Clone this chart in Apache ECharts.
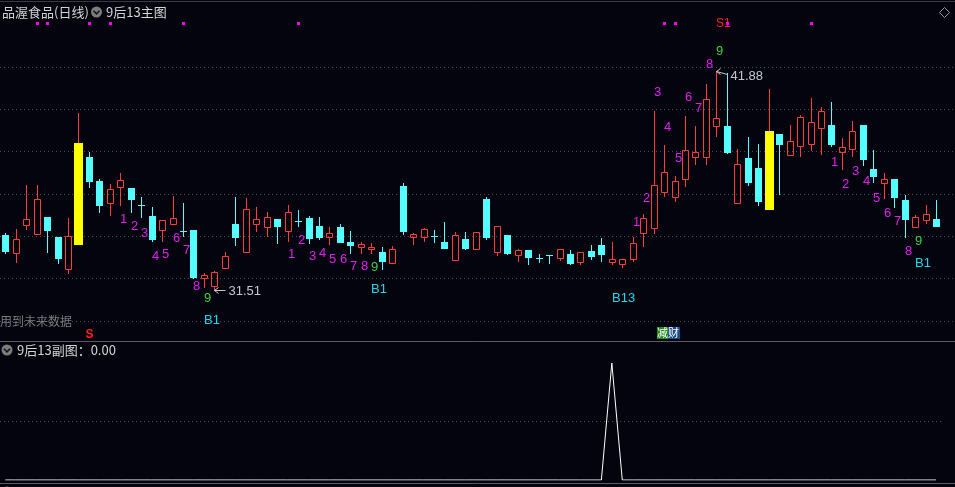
<!DOCTYPE html>
<html><head><meta charset="utf-8">
<script src="https://cdn.jsdelivr.net/npm/echarts@6/dist/echarts.min.js"></script>
<style>html,body{margin:0;padding:0;background:#04040e;}#c{width:955px;height:487px;}</style>
</head><body><div id="c"></div>
<script>
// ---------- data ----------
const days = Array.from({length: 90}, (_, i) => 'D' + (i + 1));
const opens  = [34.11,33.26,34.59,34.16,34.97,34.02,32.51,33.69,37.81,36.67,
                35.63,36.39,36.34,35.54,35.01,34.35,34.64,34.30,34.35,32.08,
                31.70,32.55,34.64,33.31,34.64,34.49,34.87,34.30,34.78,34.92,
                34.54,34.02,34.49,33.78,33.55,33.45,33.31,32.79,36.44,34.02,
                34.02,34.07,33.78,32.93,33.93,33.45,35.82,33.31,34.11,33.17,
                33.40,33.03,33.17,33.03,33.22,32.84,33.36,33.64,32.84,32.74,
                32.98,34.21,34.45,36.15,35.91,36.77,37.81,37.81,39.28,39.28,
                35.63,37.76,37.29,35.35,38.90,37.90,38.33,38.42,39.18,39.32,
                38.05,38.19,39.32,37.24,36.58,36.77,35.77,34.49,34.83,34.87];
const closes = [33.36,33.93,34.87,35.82,34.35,33.03,34.07,38.47,36.67,35.54,
                36.29,36.72,35.82,35.54,33.93,34.83,34.92,34.30,32.13,32.22,
                32.36,33.12,34.02,35.35,34.87,34.97,34.54,35.20,34.78,33.97,
                34.02,34.21,33.78,33.64,33.69,33.55,32.88,33.45,34.30,34.16,
                34.40,34.07,33.50,34.11,33.50,34.26,34.02,34.54,33.26,33.40,
                33.07,33.03,33.17,33.45,32.79,33.31,33.12,33.22,32.98,32.98,
                33.74,34.92,36.48,37.10,36.67,38.14,38.05,40.55,39.65,38.05,
                37.48,36.62,35.73,39.04,38.42,38.57,39.70,39.47,39.99,38.42,
                38.28,39.04,37.71,36.91,36.77,35.91,34.87,34.97,35.11,34.54];
const lows   = [33.26,32.84,34.40,34.16,33.31,32.79,32.32,33.69,36.39,35.20,
                35.06,35.54,35.20,34.97,33.83,33.83,34.64,34.07,32.08,31.65,
                31.51,32.55,33.64,33.31,34.30,34.07,33.74,33.83,34.54,33.74,
                33.93,33.69,33.78,33.26,33.26,33.26,32.51,32.79,34.16,33.69,
                33.83,33.78,33.50,32.93,33.45,33.45,33.93,33.17,33.22,32.88,
                32.74,32.84,32.79,32.93,32.74,32.74,32.98,32.88,32.74,32.60,
                32.88,33.59,34.21,35.96,35.73,36.44,37.48,37.48,38.80,38.00,
                35.63,36.48,35.54,35.35,36.06,37.90,37.86,38.14,37.95,38.33,
                37.24,37.86,37.43,36.62,35.87,35.44,34.02,34.49,34.68,34.54];
const highs  = [34.21,34.40,36.48,36.48,34.97,34.02,34.92,39.89,38.05,36.77,
                36.53,37.05,36.34,35.91,35.44,34.83,35.96,35.63,34.35,32.32,
                32.41,33.31,35.91,35.87,35.44,35.20,34.87,35.54,35.30,35.01,
                34.97,34.49,34.64,34.30,33.78,33.74,33.55,33.59,36.58,34.21,
                34.45,34.35,34.73,34.26,34.26,34.26,35.91,34.54,34.11,33.45,
                33.40,33.22,33.17,33.45,33.40,33.31,33.64,33.97,33.78,32.98,
                34.02,35.11,39.99,38.38,36.91,39.75,39.28,41.26,41.88,41.79,
                38.19,38.76,38.42,41.03,38.90,39.32,39.80,40.60,40.18,40.41,
                38.71,39.51,39.32,38.14,37.05,36.77,36.01,35.06,35.54,35.77];
const limitUpDays = [7, 73];

// nine-count labels: day index, text, price level of the label
const tdIdx   = [11,12,13,14,15,16,17,18,19,19,
                 27,28,29,30,31,32,33,34,35,35,
                 58,
                 60,61,62,63,64,65,66,67,68,
                 79,80,81,82,83,84,85,86,87,87];
const tdText  = ['1','2','3','4','5','6','7','8','9','B1',
                 '1','2','3','4','5','6','7','8','9','B1',
                 'B13',
                 '1','2','3','4','5','6','7','8','9',
                 '1','2','3','4','5','6','7','8','9','B1'];
const tdPrice = [34.85,34.54,34.21,33.14,33.22,33.97,33.40,31.70,31.13,30.09,
                 33.22,33.88,33.12,33.26,32.98,32.98,32.65,32.65,32.60,31.56,
                 31.13,
                 34.74,35.89,40.89,39.23,37.76,40.65,40.13,42.21,42.83,
                 37.59,36.53,37.14,36.67,35.87,35.16,34.78,33.36,33.83,32.79];

const dotDays   = [3,4,8,10,17,28,63,64,69,77];
const sellIdx   = [68, 8];
const sellText  = ['S1', 'S'];
const sellPrice = [44.10, 29.38];

const subValues = [0,0,0,0,0,0,0,0,0,0, 0,0,0,0,0,0,0,0,0,0,
                   0,0,0,0,0,0,0,0,0,0, 0,0,0,0,0,0,0,0,0,0,
                   0,0,0,0,0,0,0,0,0,0, 0,0,0,0,0,0,0,0,1,0,
                   0,0,0,0,0,0,0,0,0,0, 0,0,0,0,0,0,0,0,0,0,
                   0,0,0,0,0,0,0,0,0,0];

// ---------- styling ----------
const BG = '#04040e', RED = '#ff3c3c', CYAN = '#54ffff', YEL = '#ffff00';
const MAG = '#e020f0', GREEN = '#40d040', CYTXT = '#20d8f0';
const GL = -2.24, GW = 943.5;
const DOT = {color: '#4a4a58', type: [1, 3], width: 1};
const NUMFONT = '13px "Liberation Sans", Arial, sans-serif';
const CJK = '"Noto Sans CJK SC", sans-serif';

const candleData = days.map((d, i) => [i, opens[i], closes[i], lows[i], highs[i]]);

function renderCandle(params, api) {
  const i = api.value(0), o = api.value(1), c = api.value(2), l = api.value(3), h = api.value(4);
  const p = api.coord([i, o]);
  const x = Math.round(p[0]) + 0.5;
  const yO = Math.round(p[1]), yC = Math.round(api.coord([i, c])[1]);
  const yL = Math.round(api.coord([i, l])[1]), yH = Math.round(api.coord([i, h])[1]);
  const top = Math.min(yO, yC), bot = Math.max(yO, yC);
  const kids = [];
  const vline = (y1, y2, col) => { if (y2 > y1) kids.push({type: 'line', shape: {x1: x, y1: y1, x2: x, y2: y2}, style: {stroke: col, lineWidth: 1}}); };
  if (limitUpDays.indexOf(i) >= 0) {
    vline(yH, top, RED); vline(bot + 1, yL + 1, RED);
    kids.push({type: 'rect', shape: {x: x - 4.5, y: top, width: 9, height: bot - top + 1}, style: {fill: YEL}});
  } else if (c > o) {
    vline(yH, top, RED); vline(bot + 1, yL + 1, RED);
    kids.push({type: 'rect', shape: {x: x - 3, y: top + 0.5, width: 6, height: Math.max(bot - top, 1)}, style: {fill: 'none', stroke: RED, lineWidth: 1}});
  } else if (c < o) {
    vline(yH, top, CYAN); vline(bot + 1, yL + 1, CYAN);
    kids.push({type: 'rect', shape: {x: x - 3.5, y: top, width: 7, height: bot - top + 1}, style: {fill: CYAN}});
  } else {
    vline(yH, yL + 1, CYAN);
    kids.push({type: 'line', shape: {x1: x - 3.5, y1: top + 0.5, x2: x + 3.5, y2: top + 0.5}, style: {stroke: CYAN, lineWidth: 1}});
  }
  return {type: 'group', children: kids};
}

function renderTd(params, api) {
  const k = params.dataIndex;
  const p = api.coord([api.value(0), api.value(1)]);
  const t = tdText[k];
  const fill = t === '9' ? GREEN : (t[0] === 'B' ? CYTXT : MAG);
  return {type: 'text', x: Math.round(p[0]), y: Math.round(p[1]),
          style: {text: t, fill: fill, font: NUMFONT, align: 'left', verticalAlign: 'middle'}};
}

let hiI = 0, loI = 0;
highs.forEach((v, i) => { if (v > highs[hiI]) hiI = i; });
lows.forEach((v, i) => { if (v < lows[loI]) loI = i; });
const extremeData = [[hiI, highs[hiI]], [loI, lows[loI]]];

function renderExtreme(params, api) {
  const p = api.coord([api.value(0), api.value(1)]);
  const isHigh = params.dataIndex === 0;
  const hx = Math.round(p[0]) + 0.5, hy = Math.round(p[1]) + 0.5;
  const tx = hx + 11, ty = isHigh ? hy + 3 : hy;
  const col = '#c8c8c8';
  return {type: 'group', children: [
    {type: 'line', shape: {x1: hx, y1: hy, x2: tx, y2: ty}, style: {stroke: col, lineWidth: 1}},
    {type: 'polyline', shape: {points: [[hx + 4, hy - 3], [hx, hy], [hx + 4, hy + 3]]}, style: {stroke: col, fill: null, lineWidth: 1}},
    {type: 'text', x: tx + 3, y: Math.round(isHigh ? hy + 4 : hy),
     style: {text: api.value(1).toFixed(2), fill: '#c0c8d4', font: NUMFONT, align: 'left', verticalAlign: 'middle'}}
  ]};
}

function renderDot(params, api) {
  const x = Math.round(api.coord([api.value(0), 40])[0]);
  return {type: 'rect', shape: {x: x - 1, y: 22, width: 3, height: 3}, style: {fill: '#ff00ff'}};
}

function renderSell(params, api) {
  const k = params.dataIndex;
  const p = api.coord([api.value(0), api.value(1)]);
  const left = k === 0;
  return {type: 'text', x: Math.round(p[0]) + (left ? 0 : 0.5), y: Math.round(p[1]),
          style: {text: sellText[k], fill: '#ff2020', font: (left ? '' : 'bold ') + '12px "Liberation Sans", Arial, sans-serif',
                  align: left ? 'left' : 'center', verticalAlign: 'middle'}};
}

const chart = echarts.init(document.getElementById('c'), null, {renderer: 'canvas'});

const txt = (x, y, s, fill, font, extra) => Object.assign({type: 'text', x: x, y: y, silent: true,
  style: {text: s, fill: fill, font: font, align: 'left', verticalAlign: 'middle'}}, extra || {});
const knob = (cx, cy) => ({type: 'group', silent: true, children: [
  {type: 'circle', shape: {cx: cx, cy: cy, r: 5.5}, style: {fill: '#7c7c7c'}},
  {type: 'polyline', shape: {points: [[cx - 3, cy - 1.2], [cx, cy + 1.8], [cx + 3, cy - 1.2]]}, style: {stroke: '#15151a', lineWidth: 1.6, fill: null}}
]});

chart.setOption({
  backgroundColor: BG,
  animation: false,
  grid: [
    {left: GL, width: GW, top: 25, height: 316},
    {left: 0, right: 0, top: 67, height: 254},
    {left: GL, width: GW, top: 363, height: 117}
  ],
  xAxis: [
    {type: 'category', data: days, gridIndex: 0, show: false},
    {type: 'value', gridIndex: 1, show: false, min: 0, max: 1},
    {type: 'category', data: days, gridIndex: 2, show: false, boundaryGap: true}
  ],
  yAxis: [
    {type: 'value', gridIndex: 0, min: 29.096, max: 44.058, show: false, scale: true},
    {type: 'value', gridIndex: 1, min: 0, max: 6, interval: 1,
     axisLine: {show: false}, axisTick: {show: false}, axisLabel: {show: false},
     splitLine: {show: true, lineStyle: DOT}},
    {type: 'value', gridIndex: 2, min: 0, max: 1, interval: 0.5,
     axisLine: {show: false}, axisTick: {show: false}, axisLabel: {show: false},
     splitLine: {show: true, showMinLine: false, showMaxLine: false, lineStyle: DOT}}
  ],
  series: [
    {type: 'custom', name: 'K', xAxisIndex: 0, yAxisIndex: 0, data: candleData, renderItem: renderCandle, silent: true},
    {type: 'custom', name: 'TD', xAxisIndex: 0, yAxisIndex: 0, data: tdIdx.map((d, k) => [d, tdPrice[k]]), renderItem: renderTd, silent: true, z: 3},
    {type: 'custom', name: 'ext', xAxisIndex: 0, yAxisIndex: 0, data: extremeData, renderItem: renderExtreme, silent: true, z: 3},
    {type: 'custom', name: 'dots', xAxisIndex: 0, yAxisIndex: 0, data: dotDays.map(d => [d]), renderItem: renderDot, silent: true, z: 4},
    {type: 'custom', name: 'sell', xAxisIndex: 0, yAxisIndex: 0, data: sellIdx.map((d, k) => [d, sellPrice[k]]), renderItem: renderSell, silent: true, z: 3},
    {type: 'line', name: 'sub', xAxisIndex: 2, yAxisIndex: 2, data: subValues, symbol: 'none',
     lineStyle: {color: '#ffffff', width: 1}, silent: true, z: 3}
  ],
  graphic: [
    {type: 'line', silent: true, shape: {x1: 0, y1: 1.5, x2: 955, y2: 1.5}, style: {stroke: '#3a3a40', lineWidth: 1}},
    txt(2, 12, '品渥食品(日线)', '#d4d4d4', '13px ' + CJK),
    knob(96.5, 12),
    txt(106, 12, '9后13主图', '#d4d4d4', '13px ' + CJK),
    {type: 'polygon', silent: true, shape: {points: [[944.5, 7.5], [949.5, 12.5], [944.5, 17.5], [939.5, 12.5]]}, style: {stroke: '#9a9a9a', fill: null, lineWidth: 1}},
    txt(0, 321, '用到未来数据', '#7c7c7c', '12px ' + CJK),
    {type: 'group', x: 657, y: 327, silent: true, children: [
      {type: 'rect', shape: {x: 0, y: 0, width: 11, height: 12}, style: {fill: '#1d8a1d'}},
      {type: 'rect', shape: {x: 11, y: 0, width: 12, height: 12}, style: {fill: '#1c4a86'}},
      {type: 'text', x: 0, y: 6, style: {text: '减', fill: '#ffffff', font: '11px ' + CJK, align: 'left', verticalAlign: 'middle'}},
      {type: 'text', x: 11, y: 6, style: {text: '财', fill: '#ffffff', font: '11px ' + CJK, align: 'left', verticalAlign: 'middle'}}
    ]},
    {type: 'line', silent: true, shape: {x1: 0, y1: 341.5, x2: 955, y2: 341.5}, style: {stroke: '#5a5a60', lineWidth: 1}},
    knob(7, 350),
    txt(17, 350, '9后13副图：0.00', '#d4d4d4', '13px ' + CJK),
    {type: 'line', silent: true, shape: {x1: 0, y1: 483.5, x2: 955, y2: 483.5}, style: {stroke: '#5a5a60', lineWidth: 1}},
    {type: 'circle', silent: true, shape: {cx: 7, cy: 492, r: 5.5}, style: {fill: '#7c7c7c'}},
    txt(17, 492, '34.54(-1.60%)', '#c8c8c8', '12px ' + CJK),
    txt(110, 492, 'MA5', '#e8e8e8', '12px ' + CJK),
    txt(140, 492, '34.7', '#e8e8e8', '12px ' + CJK),
    txt(168, 492, 'M10', '#ffff00', '12px ' + CJK),
    txt(200, 492, '35.21', '#ffff00', '12px ' + CJK),
    txt(228, 492, 'M20', '#ff00ff', '12px ' + CJK),
    txt(250, 492, '36.05', '#ff00ff', '12px ' + CJK),
    txt(280, 492, '37.0', '#ff00ff', '12px ' + CJK)
  ]
});
</script></body></html>
